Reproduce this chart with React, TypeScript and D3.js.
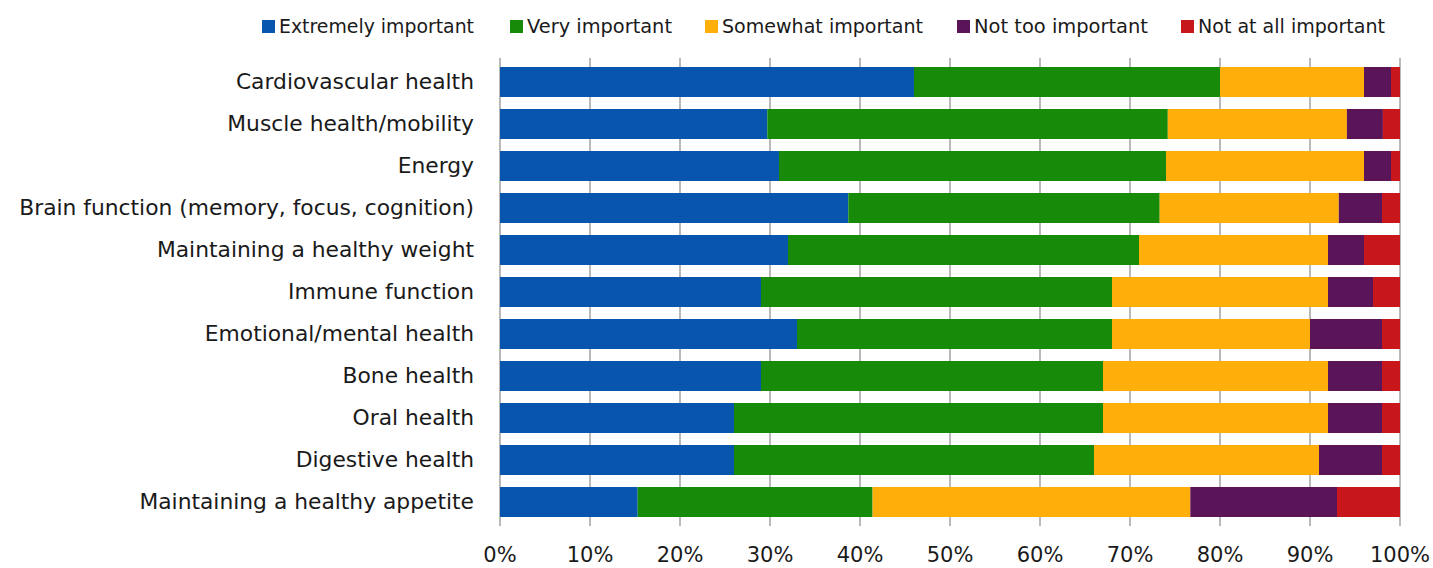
import React from "react";
import * as d3 from "d3";

const categories = [
  "Cardiovascular health",
  "Muscle health/mobility",
  "Energy",
  "Brain function (memory, focus, cognition)",
  "Maintaining a healthy weight",
  "Immune function",
  "Emotional/mental health",
  "Bone health",
  "Oral health",
  "Digestive health",
  "Maintaining a healthy appetite",
];

const seriesNames = [
  "Extremely important",
  "Very important",
  "Somewhat important",
  "Not too important",
  "Not at all important",
];

const extremely = [46, 29.7, 31, 38.7, 32, 29, 33, 29, 26, 26, 15.3];
const very = [34, 44.5, 43, 34.6, 39, 39, 35, 38, 41, 40, 26.1];
const somewhat = [16, 19.9, 22, 19.9, 21, 24, 22, 25, 25, 25, 35.3];
const notToo = [3, 4, 3, 4.8, 4, 5, 8, 6, 6, 7, 16.3];
const notAtAll = [1, 1.9, 1, 2, 4, 3, 2, 2, 2, 2, 7];

const tickValues = [0, 10, 20, 30, 40, 50, 60, 70, 80, 90, 100];

const colors = ["#0855AD", "#188A0A", "#FFAE0A", "#5A1558", "#C8171A"];

// layout
const W = 1433;
const H = 568;
const plotLeft = 500;
const plotRight = 1400;
const plotTop = 61;
const plotBottom = 523;
const legendSquareX = [262, 510, 705, 957, 1181];
const legendTextWidths = [195, 145, 201, 174, 187];

export default function App() {
  const seriesArrays = [extremely, very, somewhat, notToo, notAtAll];
  const rows = categories.map((c, i) => {
    const r: any = { category: c };
    seriesNames.forEach((s, j) => (r[s] = seriesArrays[j][i]));
    return r;
  });
  const stacked = d3.stack<any>().keys(seriesNames)(rows);

  const x = d3.scaleLinear().domain([0, 100]).range([plotLeft, plotRight]);
  const y = d3
    .scaleBand<string>()
    .domain(categories)
    .range([plotTop, plotBottom])
    .paddingInner(12 / 42)
    .paddingOuter(6 / 42);

  const font = "'DejaVu Sans', Verdana, sans-serif";

  return (
    <div>
      <style>{`body{margin:0;}`}</style>
      <svg width={W} height={H} style={{ display: "block", background: "#fff" }}>
        {/* gridlines */}
        {tickValues.map((t) => (
          <line
            key={"g" + t}
            x1={x(t)}
            x2={x(t)}
            y1={58}
            y2={526}
            stroke="#8a8a8a"
            strokeWidth={1.2}
          />
        ))}
        {/* bars */}
        {stacked.map((s, si) => (
          <g key={s.key} fill={colors[si]}>
            {s.map((d, i) => (
              <rect
                key={i}
                x={x(d[0])}
                y={y(categories[i])}
                width={x(d[1]) - x(d[0])}
                height={y.bandwidth()}
              />
            ))}
          </g>
        ))}
        {/* category labels */}
        {categories.map((c) => (
          <text
            key={c}
            x={474}
            y={(y(c) as number) + y.bandwidth() / 2 + 7}
            textAnchor="end"
            fontFamily={font}
            fontSize={21.8}
            fill="#1a1a1a"
          >
            {c}
          </text>
        ))}
        {/* tick labels */}
        {tickValues.map((t) => (
          <text
            key={"t" + t}
            x={x(t)}
            y={562}
            textAnchor="middle"
            fontFamily={font}
            fontSize={21}
            fill="#1a1a1a"
          >
            {t + "%"}
          </text>
        ))}
        {/* legend */}
        {seriesNames.map((s, i) => (
          <g key={"l" + s}>
            <rect x={legendSquareX[i]} y={20} width={13} height={13} fill={colors[i]} />
            <text
              x={legendSquareX[i] + 17}
              y={33}
              fontFamily={font}
              fontSize={20}
              fill="#1a1a1a"
              textLength={legendTextWidths[i]}
              lengthAdjust="spacingAndGlyphs"
            >
              {s}
            </text>
          </g>
        ))}
      </svg>
    </div>
  );
}
